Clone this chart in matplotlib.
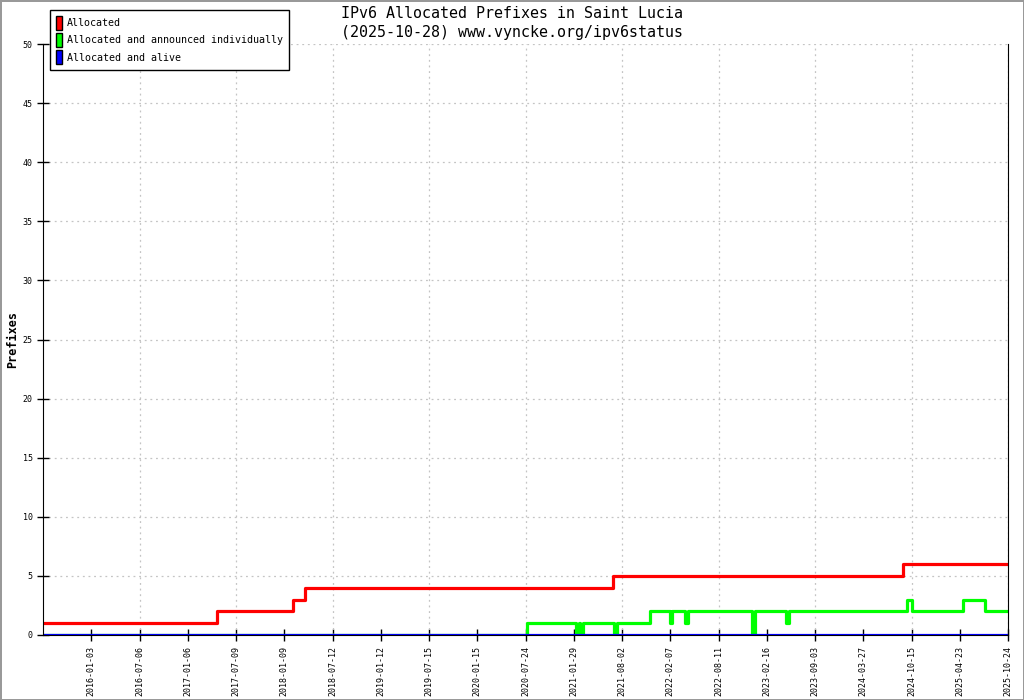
import matplotlib
matplotlib.use("Agg")
import matplotlib.pyplot as plt
from matplotlib.patches import Patch

# x is measured in label slots: slot k is where the k-th date label sits
date_labels = ["2016-01-03", "2016-07-06", "2017-01-06", "2017-07-09",
               "2018-01-09", "2018-07-12", "2019-01-12", "2019-07-15",
               "2020-01-15", "2020-07-24", "2021-01-29", "2021-08-02",
               "2022-02-07", "2022-08-11", "2023-02-16", "2023-09-03",
               "2024-03-27", "2024-10-15", "2025-04-23", "2025-10-24"]

# series as step change points (slot, value)
alloc_x = [0, 3.61, 5.18, 5.44, 11.81, 17.83, 20.0]
alloc_y = [1, 2, 3, 4, 5, 6, 6]

announced_x = [0, 10.04, 11.05, 11.10, 11.13, 11.19, 11.84, 11.89, 12.59,
               12.99, 13.04, 13.31, 13.36, 14.70, 14.76, 15.39, 15.47,
               17.91, 18.00, 19.06, 19.52, 20.0]
announced_y = [0, 1, 0, 1, 0, 1, 0, 1, 2,
               1, 2, 1, 2, 0, 2, 1, 2,
               3, 2, 3, 2, 2]

alive_x = [0, 20.0]
alive_y = [0, 0]

mono = "DejaVu Sans Mono"
plt.rcParams['font.family'] = [mono, 'DejaVu Sans']

fig = plt.figure(figsize=(10.24, 7), dpi=100)
fig.patch.set_edgecolor("#999999")
fig.patch.set_linewidth(2)
ax = fig.add_axes([43 / 1024, 65 / 700, 965 / 1024, 591 / 700])

ax.plot(alloc_x, alloc_y, drawstyle="steps-post", color="#ff0000", lw=2.3)
ax.plot(announced_x, announced_y, drawstyle="steps-post", color="#00ff00", lw=2.3)
ax.plot(alive_x, alive_y, drawstyle="steps-post", color="#0000ff", lw=2.3)

ax.set_xlim(0, 20)
ax.set_ylim(0, 50)

ax.set_yticks(range(0, 51, 5))
ax.tick_params(axis="y", labelsize=6, direction="inout", length=8, width=1)
ax.set_xticks(range(1, len(date_labels) + 1))
ax.set_xticklabels(date_labels, rotation=90, fontsize=6)
ax.tick_params(axis="x", direction="inout", length=8, width=1, pad=4)
ax.xaxis.remove_overlapping_locs = False
ax.set_xticks(range(2, 21, 2), minor=True)
ax.tick_params(axis="x", which="minor", length=0)

grid_style = dict(color="#c4c4c4", ls=(0, (1.5, 3)), lw=0.9)
ax.grid(axis="y", which="major", **grid_style)
ax.grid(axis="x", which="minor", **grid_style)
ax.set_axisbelow(True)

ax.spines["top"].set_visible(False)
ax.spines["right"].set_color("black")

ax.set_ylabel("Prefixes", fontsize=8.5, fontweight="bold")
ax.yaxis.set_label_coords(-0.025, 0.5)

fig.text(0.5, 1 - 14 / 700, "IPv6 Allocated Prefixes in Saint Lucia",
         ha="center", va="center", fontsize=10.8)
fig.text(0.5, 1 - 32 / 700, "(2025-10-28) www.vyncke.org/ipv6status",
         ha="center", va="center", fontsize=10.8)

handles = [Patch(facecolor="#ff0000", edgecolor="black", label="Allocated"),
           Patch(facecolor="#00ff00", edgecolor="black",
                 label="Allocated and announced individually"),
           Patch(facecolor="#0000ff", edgecolor="black", label="Allocated and alive")]
leg = fig.legend(handles=handles, loc="upper left",
                 bbox_to_anchor=(50 / 1024, 1 - 10 / 700),
                 fontsize=7.2, fancybox=False, framealpha=1, edgecolor="black",
                 handlelength=0.6, handleheight=1.8, handletextpad=0.5,
                 labelspacing=0.3, borderpad=0.6, borderaxespad=0)
leg.get_frame().set_linewidth(1)

fig.savefig("out.png", dpi=100)
